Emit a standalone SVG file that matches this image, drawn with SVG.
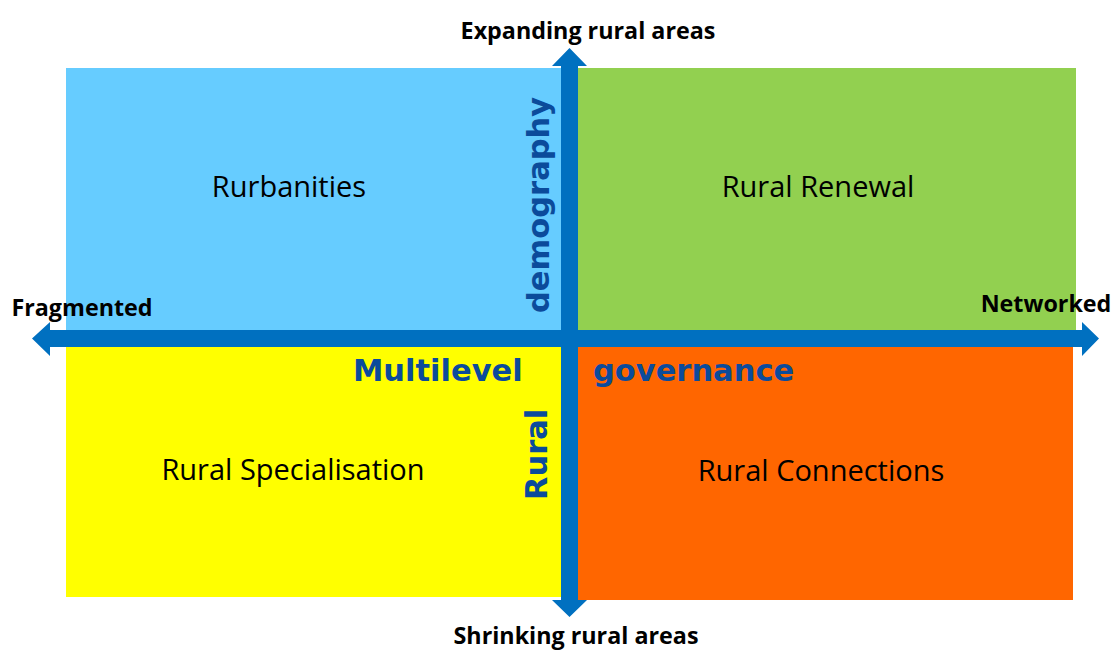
<svg xmlns="http://www.w3.org/2000/svg" width="1115" height="652" viewBox="0 0 1115 652">
<style>
.axis{font-family:"Open Sans","Liberation Sans",sans-serif;font-weight:bold;font-size:23.3px;fill:#000;text-anchor:middle}
.quad{font-family:"Open Sans","Liberation Sans",sans-serif;font-size:29px;fill:#000;text-anchor:middle}
.lab{font-family:"DejaVu Sans","Liberation Sans",sans-serif;font-weight:bold;font-size:30.5px;fill:#0B4B9B}
.arrow{fill:#0070C0}
</style>
<rect width="1115" height="652" fill="#fff"/>
<g id="q-rurbanities">
<rect x="66" y="68" width="500" height="266" fill="#66CCFF"/>
<text class="quad" x="289" y="197">Rurbanities</text>
</g>
<g id="q-rural-renewal">
<rect x="574" y="68" width="502" height="266" fill="#92D050"/>
<text class="quad" x="818" y="197">Rural Renewal</text>
</g>
<g id="q-rural-specialisation">
<rect x="66" y="343" width="500" height="254" fill="#FFFF00"/>
<text class="quad" x="293" y="480">Rural Specialisation</text>
</g>
<g id="q-rural-connections">
<rect x="574" y="343" width="499" height="257" fill="#FF6600"/>
<text class="quad" x="821" y="481">Rural Connections</text>
</g>
<g id="connectors">
<polygon class="arrow" points="561,66 552,66 569.5,48 587,66 578,66 578,600 587,600 569.5,617 552,600 561,600"/>
<polygon class="arrow" points="50,330 50,322 32,338.5 50,356 50,347 1082,347 1082,356 1099,338.5 1082,322 1082,330"/>
</g>
<g id="axis-labels">
<text class="axis" x="588" y="39">Expanding rural areas</text>
<text class="axis" x="576" y="644">Shrinking rural areas</text>
<text class="axis" x="82" y="316">Fragmented</text>
<text class="axis" x="1046" y="312">Networked</text>
</g>
<g id="dimension-labels">
<text class="lab" x="353" y="381">Multilevel</text>
<text class="lab" x="593" y="381">governance</text>
<text class="lab" transform="translate(549,313) rotate(-90)">demography</text>
<text class="lab" transform="translate(547,500) rotate(-90)">Rural</text>
</g>
</svg>
